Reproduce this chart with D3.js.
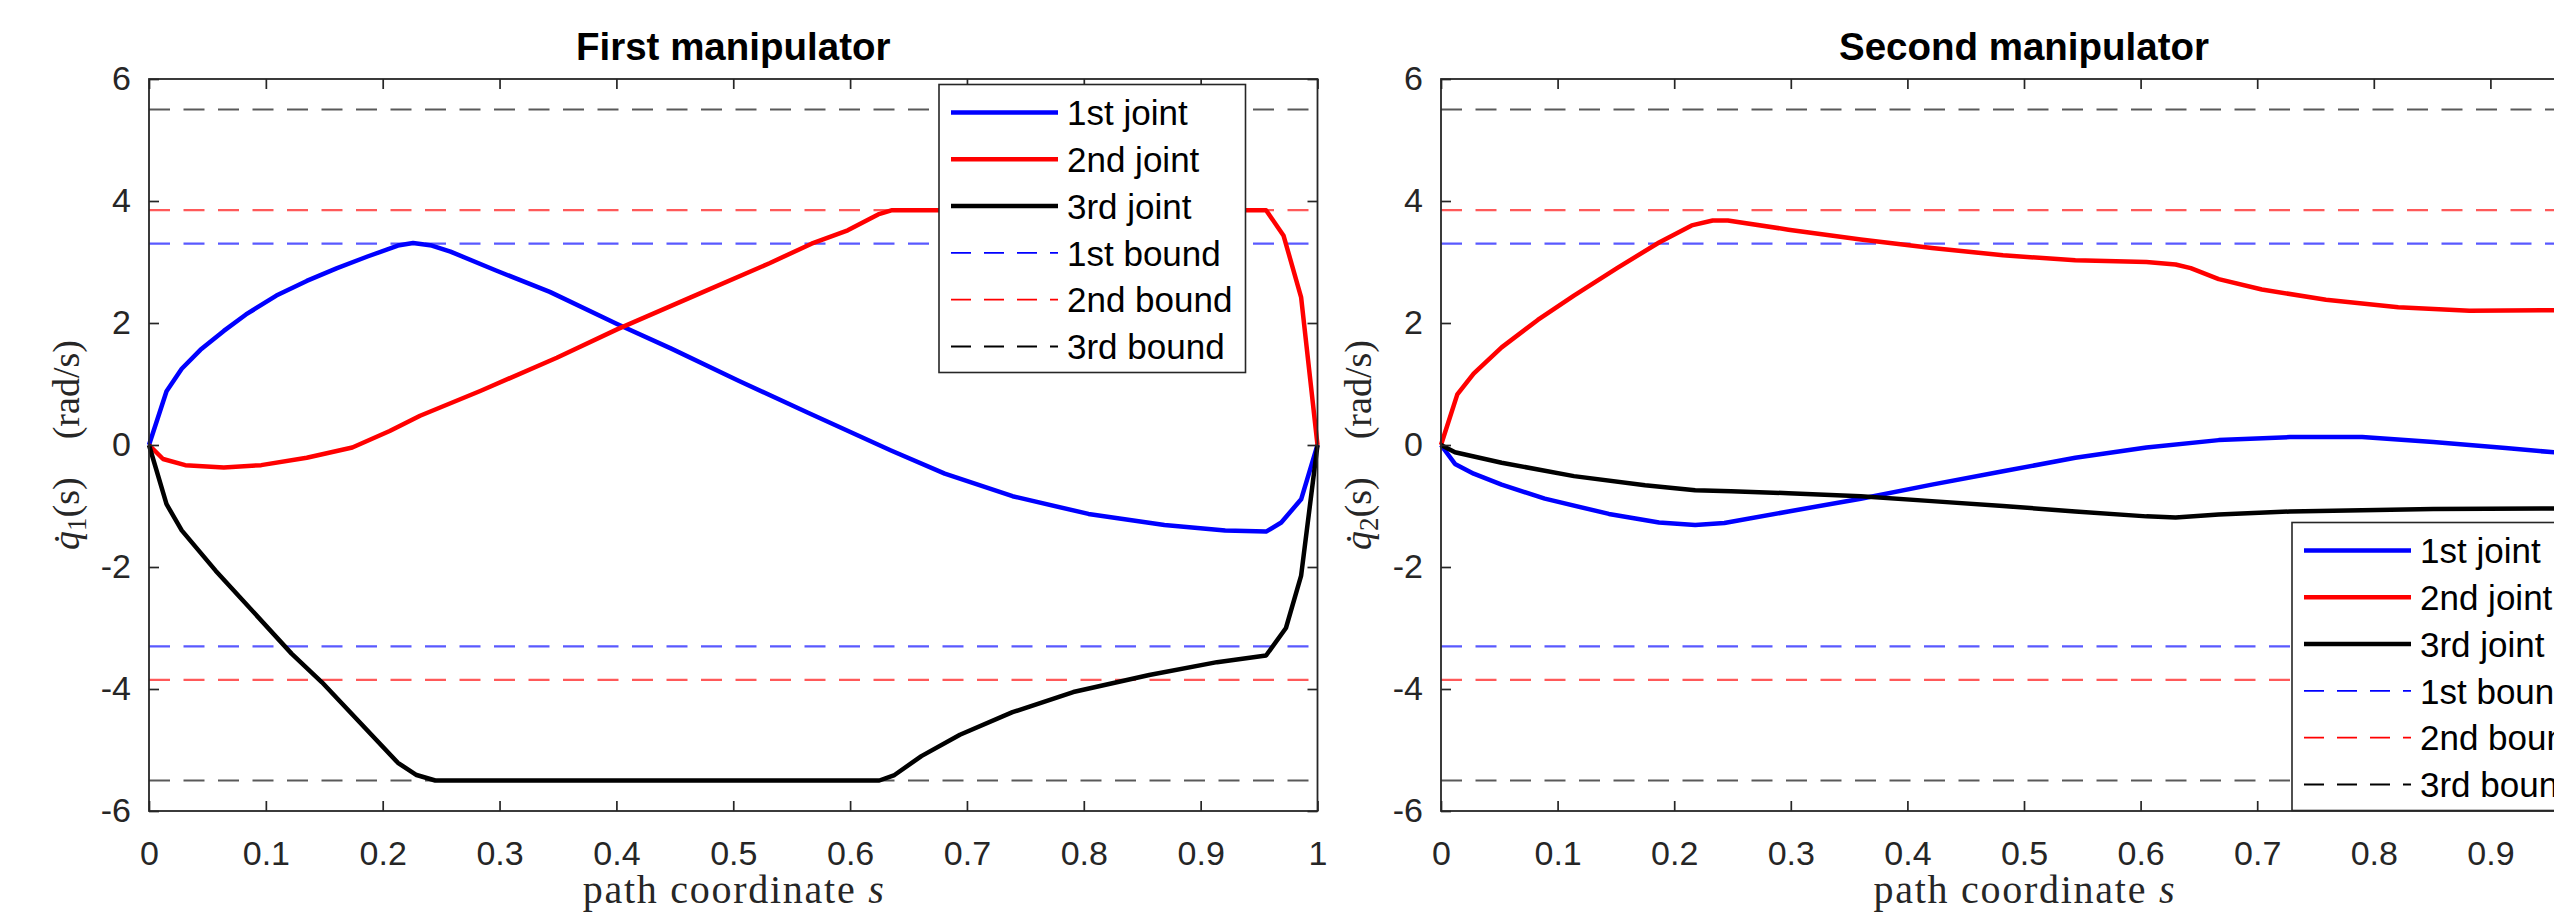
<!DOCTYPE html>
<html>
<head>
<meta charset="utf-8">
<script src="https://cdn.jsdelivr.net/npm/d3@7"></script>
<style>
  body { margin: 0; background: #fff; }
</style>
</head>
<body>
<div id="chart"></div>
<script>
// values: [path coordinate s, joint velocity rad/s]
const firstJoint1 = [[0,0],[0.015,0.88],[0.028,1.25],[0.044,1.56],[0.064,1.87],[0.083,2.14],[0.109,2.45],[0.135,2.69],[0.161,2.9],[0.187,3.09],[0.213,3.27],[0.226,3.31],[0.242,3.27],[0.258,3.17],[0.297,2.86],[0.343,2.51],[0.401,1.98],[0.447,1.58],[0.505,1.05],[0.564,0.53],[0.635,-0.09],[0.681,-0.47],[0.739,-0.84],[0.804,-1.13],[0.869,-1.31],[0.921,-1.4],[0.956,-1.42],[0.969,-1.27],[0.986,-0.89],[1,0]];
const firstJoint2 = [[0,0],[0.012,-0.23],[0.031,-0.33],[0.064,-0.37],[0.096,-0.33],[0.135,-0.21],[0.174,-0.04],[0.206,0.23],[0.232,0.48],[0.284,0.89],[0.349,1.43],[0.401,1.9],[0.472,2.49],[0.531,2.98],[0.567,3.3],[0.598,3.52],[0.624,3.78],[0.636,3.85],[0.956,3.85],[0.971,3.43],[0.986,2.42],[1,0]];
const firstJoint3 = [[0,0],[0.015,-0.97],[0.028,-1.4],[0.057,-2.06],[0.122,-3.42],[0.148,-3.89],[0.213,-5.21],[0.229,-5.41],[0.245,-5.5],[0.625,-5.5],[0.638,-5.41],[0.661,-5.1],[0.694,-4.75],[0.739,-4.38],[0.791,-4.05],[0.856,-3.77],[0.914,-3.56],[0.956,-3.45],[0.973,-3.0],[0.986,-2.14],[1,0]];

const secondJoint1 = [[0,0],[0.012,-0.31],[0.028,-0.47],[0.052,-0.65],[0.089,-0.88],[0.144,-1.13],[0.187,-1.27],[0.218,-1.31],[0.243,-1.28],[0.298,-1.09],[0.36,-0.88],[0.421,-0.65],[0.482,-0.43],[0.544,-0.21],[0.605,-0.04],[0.667,0.08],[0.728,0.13],[0.79,0.13],[0.851,0.05],[0.913,-0.05],[0.96,-0.13]];
const secondJoint2 = [[0,0],[0.014,0.83],[0.028,1.17],[0.052,1.6],[0.083,2.05],[0.114,2.45],[0.151,2.9],[0.187,3.32],[0.215,3.6],[0.233,3.68],[0.246,3.68],[0.298,3.53],[0.36,3.37],[0.421,3.23],[0.482,3.11],[0.544,3.03],[0.605,3.0],[0.63,2.96],[0.643,2.9],[0.667,2.72],[0.704,2.55],[0.759,2.38],[0.821,2.26],[0.882,2.2],[0.96,2.21]];
const secondJoint3 = [[0,0],[0.012,-0.12],[0.052,-0.29],[0.114,-0.51],[0.175,-0.66],[0.218,-0.74],[0.249,-0.76],[0.298,-0.79],[0.36,-0.84],[0.421,-0.92],[0.482,-1.0],[0.544,-1.09],[0.605,-1.17],[0.63,-1.19],[0.667,-1.14],[0.728,-1.09],[0.79,-1.07],[0.851,-1.05],[0.96,-1.04]];

const bounds = [3.3, 3.85, 5.5];
const jointNames = ["1st joint", "2nd joint", "3rd joint"];
const boundNames = ["1st bound", "2nd bound", "3rd bound"];
const panelTitles = ["First manipulator", "Second manipulator"];
const xTicks = [0, 0.1, 0.2, 0.3, 0.4, 0.5, 0.6, 0.7, 0.8, 0.9, 1];
const yTicks = [-6, -4, -2, 0, 2, 4, 6];
const colors = ["#0000ff", "#ff0000", "#000000"];

const width = 2554, height = 913;
const plotTop = 79, plotBottom = 811;
const axisColor = "#262626";
const sans = "'Liberation Sans', Arial, sans-serif";
const serif = "'Liberation Serif', 'Times New Roman', serif";

const panels = [
  { title: panelTitles[0], idx: "1", left: 149, right: 1317.5, series: [firstJoint1, firstJoint2, firstJoint3], legend: { x: 939, y: 84.5 } },
  { title: panelTitles[1], idx: "2", left: 1441, right: 2607, series: [secondJoint1, secondJoint2, secondJoint3], legend: { x: 2292, y: 522.5 } }
];

const svg = d3.select("#chart").append("svg")
  .attr("width", width)
  .attr("height", height)
  .style("background-color", "#fff");

panels.forEach((p) => {
  const x = d3.scaleLinear().domain([0, 1]).range([p.left, p.right]);
  const y = d3.scaleLinear().domain([-6, 6]).range([plotBottom, plotTop]);
  const g = svg.append("g");

  // bornes (pointillés)
  bounds.forEach((b, i) => {
    [b, -b].forEach((v) => {
      g.append("line")
        .attr("x1", x(0)).attr("x2", x(1))
        .attr("y1", y(v)).attr("y2", y(v))
        .attr("stroke", colors[i])
        .attr("stroke-opacity", 0.65)
        .attr("stroke-width", 2.2)
        .attr("stroke-dasharray", "21 13.5");
    });
  });

  // courbes des articulations
  const line = d3.line().x((d) => x(d[0])).y((d) => y(d[1]));
  p.series.forEach((data, i) => {
    g.append("path")
      .datum(data)
      .attr("d", line)
      .attr("fill", "none")
      .attr("stroke", colors[i])
      .attr("stroke-width", 4.5)
      .attr("stroke-linejoin", "round");
  });

  // axes
  const fmt = (d) => String(d);
  const axes = [
    { a: d3.axisBottom(x).tickValues(xTicks).tickFormat(fmt).tickPadding(30), t: `translate(0,${plotBottom})` },
    { a: d3.axisTop(x).tickValues(xTicks).tickFormat(""), t: `translate(0,${plotTop})` },
    { a: d3.axisLeft(y).tickValues(yTicks).tickFormat(fmt).tickPadding(18), t: `translate(${p.left},0)` },
    { a: d3.axisRight(y).tickValues(yTicks).tickFormat(""), t: `translate(${p.right},0)` }
  ];
  axes.forEach(({ a, t }) => {
    const ag = g.append("g")
      .attr("transform", t)
      .call(a.tickSizeInner(-10).tickSizeOuter(0));
    ag.select(".domain").remove();
    ag.selectAll("line").attr("stroke", axisColor).attr("stroke-width", 1.7);
    ag.selectAll("text")
      .attr("fill", axisColor)
      .style("font-family", sans)
      .style("font-size", "34px");
  });

  g.append("rect")
    .attr("x", p.left).attr("y", plotTop)
    .attr("width", p.right - p.left).attr("height", plotBottom - plotTop)
    .attr("fill", "none")
    .attr("stroke", axisColor)
    .attr("stroke-width", 1.8);

  // titre
  g.append("text")
    .attr("x", (p.left + p.right) / 2)
    .attr("y", 60)
    .attr("text-anchor", "middle")
    .style("font-family", sans)
    .style("font-size", "38.5px")
    .style("font-weight", "bold")
    .attr("fill", "#000")
    .text(p.title);

  // label x
  const xl = g.append("text")
    .attr("x", (p.left + p.right) / 2)
    .attr("y", 903)
    .attr("text-anchor", "middle")
    .attr("textLength", 301)
    .attr("lengthAdjust", "spacing")
    .style("font-family", serif)
    .style("font-size", "40px")
    .attr("fill", axisColor);
  xl.append("tspan").text("path coordinate ");
  xl.append("tspan").style("font-style", "italic").text("s");

  // label y
  const yl = g.append("text")
    .attr("transform", `translate(${p.left - 70},${(plotTop + plotBottom) / 2}) rotate(-90)`)
    .attr("text-anchor", "middle")
    .style("font-family", serif)
    .style("font-size", "38px")
    .attr("fill", axisColor);
  yl.append("tspan").style("font-style", "italic").text("q\u0307");
  yl.append("tspan").attr("dy", 7).style("font-size", "27px").text(p.idx);
  yl.append("tspan").attr("dy", -7).text("(s)\u2002\u2002(rad/s)");

  // légende
  const lg = g.append("g").attr("transform", `translate(${p.legend.x},${p.legend.y})`);
  lg.append("rect")
    .attr("width", 306.5).attr("height", 288)
    .attr("fill", "#fff")
    .attr("stroke", axisColor)
    .attr("stroke-width", 1.6);
  const items = jointNames.map((n, i) => ({ name: n, color: colors[i], dash: null }))
    .concat(boundNames.map((n, i) => ({ name: n, color: colors[i], dash: "20 13" })));
  items.forEach((it, i) => {
    const ry = 28 + i * 46.8;
    lg.append("line")
      .attr("x1", 12).attr("x2", 119)
      .attr("y1", ry).attr("y2", ry)
      .attr("stroke", it.color)
      .attr("stroke-width", it.dash ? 1.8 : 4.5)
      .attr("stroke-dasharray", it.dash);
    lg.append("text")
      .attr("x", 128).attr("y", ry)
      .attr("dy", "0.36em")
      .style("font-family", sans)
      .style("font-size", "35px")
      .attr("fill", "#000")
      .text(it.name);
  });
});
</script>
</body>
</html>
